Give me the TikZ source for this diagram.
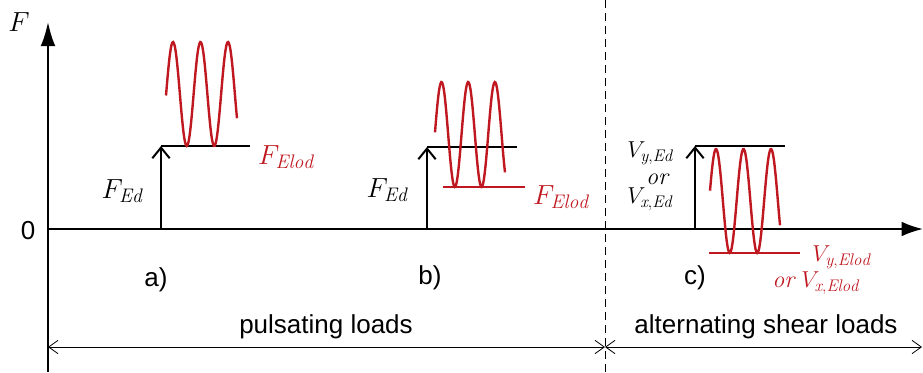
\documentclass[tikz,border=0pt]{standalone}
\usepackage{fontspec}
\setsansfont{Liberation Sans}
\usetikzlibrary{arrows.meta}
\definecolor{lred}{RGB}{192,24,32}
\begin{document}
\begin{tikzpicture}[x=0.75pt,y=-0.75pt,
  axis/.style={line width=1.5pt},
  force/.style={line width=1.5pt,-{Straight Barb[length=8pt,width=13pt]}},
  level/.style={line width=1.5pt},
  wave/.style={lred,line width=1.8pt},
  redlevel/.style={lred,line width=1.5pt},
  dim/.style={line width=0.6pt,{Straight Barb[length=7pt,width=10pt]}-{Straight Barb[length=7pt,width=10pt]}},
  lab/.style={inner sep=0pt,font=\fontsize{21}{24}\selectfont},
  sans/.style={inner sep=0pt,font=\sffamily\fontsize{19.5}{22}\selectfont},
  vlab/.style={inner sep=0pt,font=\fontsize{18}{21}\selectfont}]
\path[use as bounding box] (0,0) rectangle (923,372);
% axes
\coordinate (yb) at (48,372); \coordinate (yt) at (48,22);
\coordinate (xl) at (48,229); \coordinate (xr) at (923,229);
\draw[axis,-{Latex[length=18pt,width=11pt]}] (yb) -- (yt);
\draw[axis,-{Latex[length=16pt,width=11pt]}] (xl) -- (xr);
\node[lab,font=\fontsize{22}{24}\selectfont] (Faxis) at (19,22) {$F$};
\node[sans] (zero) at (28,231) {0};
% separator
\coordinate (s0) at (605,0); \coordinate (s1) at (605,372);
\draw[line width=0.7pt,dash pattern=on 6pt off 3.75pt] (s0) -- (s1);
% case a
\coordinate (a0) at (161,229); \coordinate (a1) at (161,146); \coordinate (a2) at (250,146);
\draw[force] (a0) -- (a1);
\draw[level] (a1) -- (a2);
\draw[wave] plot[domain=166:237,samples=90,smooth] (\x,{94-52*cos((\x-173)/27.5*360)});
\node[lab] (FEda) at (122,191) {$F_{\mathit{Ed}}$};
\node[lab,lred] (FEloda) at (286,157) {$F_{\mathit{Elod}}$};
\node[sans] (la) at (156,280) {a)};
% case b
\coordinate (b0) at (427,229); \coordinate (b1) at (427,147); \coordinate (b2) at (517,147);
\coordinate (r0) at (443,187); \coordinate (r1) at (525,187);
\draw[force] (b0) -- (b1);
\draw[level] (b1) -- (b2);
\draw[wave] plot[domain=435:505,samples=90,smooth] (\x,{134.5-52.5*cos((\x-441.5)/26.7*360)});
\draw[redlevel] (r0) -- (r1);
\node[lab] (FEdb) at (387,190) {$F_{\mathit{Ed}}$};
\node[lab,lred] (FElodb) at (561,197) {$F_{\mathit{Elod}}$};
\node[sans] (lb) at (430,278) {b)};
% case c
\coordinate (c0) at (695,229); \coordinate (c1) at (695,146); \coordinate (c2) at (785,146);
\coordinate (q0) at (709,253); \coordinate (q1) at (800,253);
\draw[force] (c0) -- (c1);
\draw[level] (c1) -- (c2);
\draw[wave] plot[domain=710:780,samples=90,smooth] (\x,{201-52*cos((\x-716)/27.5*360)});
\draw[redlevel] (q0) -- (q1);
\node[vlab,anchor=west] (Vy) at (627,153) {$V_{\mathit{y,Ed}}$};
\node[vlab] (or1) at (657,179) {$\mathit{or}$};
\node[vlab,anchor=west] (Vx) at (627,199) {$V_{\mathit{x,Ed}}$};
\node[vlab,lred,anchor=west] (Vyl) at (812,257) {$V_{\mathit{y,Elod}}$};
\node[vlab,lred,anchor=west] (Vxl) at (772,283) {$\mathit{or}\ V_{\mathit{x,Elod}}$};
\node[sans] (lc) at (695,278) {c)};
% dimension lines
\coordinate (d0) at (48,347); \coordinate (d1) at (605,347); \coordinate (d2) at (922,347);
\draw[dim] (d0) -- (d1);
\draw[dim] (d1) -- (d2);
\node[sans] (pl) at (326,327) {pulsating loads};
\node[sans] (al) at (766,327) {alternating shear loads};
\end{tikzpicture}
\end{document}
